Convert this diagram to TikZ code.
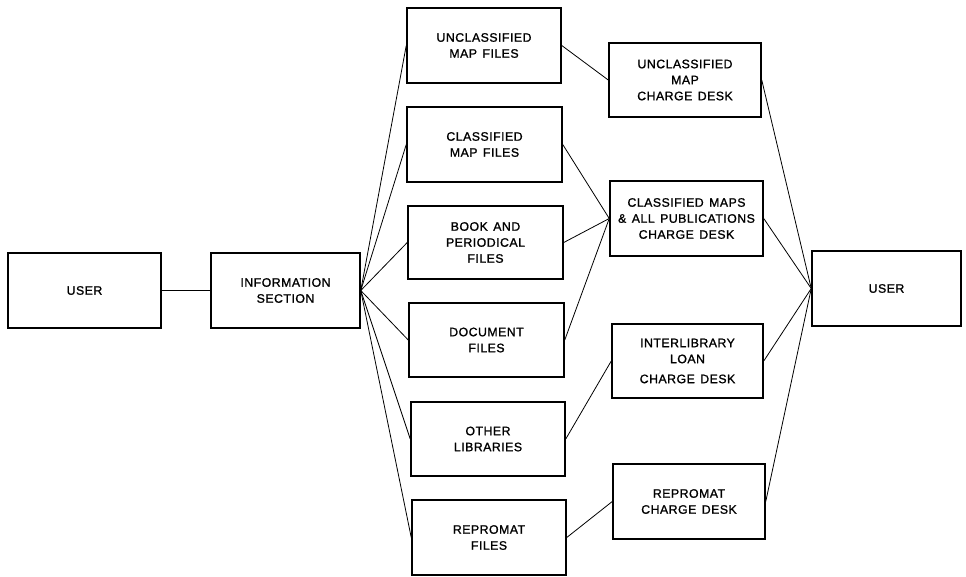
\documentclass[tikz,border=0pt]{standalone}
\usepackage{fontspec}
\newfontfamily\lblfont{Liberation Sans}[LetterSpace=4,WordSpace=1.4,FakeBold=1.2]
\begin{document}
\begin{tikzpicture}[x=1pt,y=-1pt,
  box/.style={draw,line width=1.5pt,inner sep=0pt,align=center,
    font=\lblfont\fontsize{12.3}{16}\selectfont},
  link/.style={line width=0.8pt}]
\useasboundingbox (0,0) rectangle (966,576);
\newcommand{\bx}[6]{\node[box,minimum width={#4-#2},minimum height={#5-#3}] (#1) at ({(#2+#4)/2},{(#3+#5)/2}) {#6};}
\bx{userL}{8}{253}{161}{328}{USER}
\bx{info}{211}{253}{360}{328}{INFORMATION\\SECTION}
\bx{f1}{407}{8}{561}{83}{UNCLASSIFIED\\MAP FILES}
\bx{f2}{407}{107}{562}{182}{CLASSIFIED\\MAP FILES}
\bx{f3}{408}{206}{563}{279}{BOOK AND\\PERIODICAL\\FILES}
\bx{f4}{409}{303}{564}{377}{DOCUMENT\\FILES}
\bx{f5}{411}{402}{565}{476}{OTHER\\LIBRARIES}
\bx{f6}{412}{500}{566}{575}{REPROMAT\\FILES}
\bx{d1}{609}{43}{761}{117}{UNCLASSIFIED\\MAP\\CHARGE DESK}
\bx{d2}{610}{181}{763}{256}{CLASSIFIED MAPS\\\& ALL PUBLICATIONS\\CHARGE DESK}
\bx{d3}{612}{324}{763}{398}{INTERLIBRARY\\LOAN\\[4pt]CHARGE DESK}
\bx{d4}{613}{464}{765}{539}{REPROMAT\\CHARGE DESK}
\bx{userR}{812}{251}{961}{326}{USER}
\draw[link] (userL.east) -- (info.west);
\foreach \f in {f1,f2,f3,f4,f5,f6} \draw[link] (info.east) -- (\f.west);
\draw[link] (f1.east) -- (d1.west);
\draw[link] (f2.east) -- (d2.west);
\draw[link] (f3.east) -- (d2.west);
\draw[link] (f4.east) -- (d2.west);
\draw[link] (f5.east) -- (d3.west);
\draw[link] (f6.east) -- (d4.west);
\foreach \d in {d1,d2,d3,d4} \draw[link] (\d.east) -- (userR.west);
\end{tikzpicture}
\end{document}
